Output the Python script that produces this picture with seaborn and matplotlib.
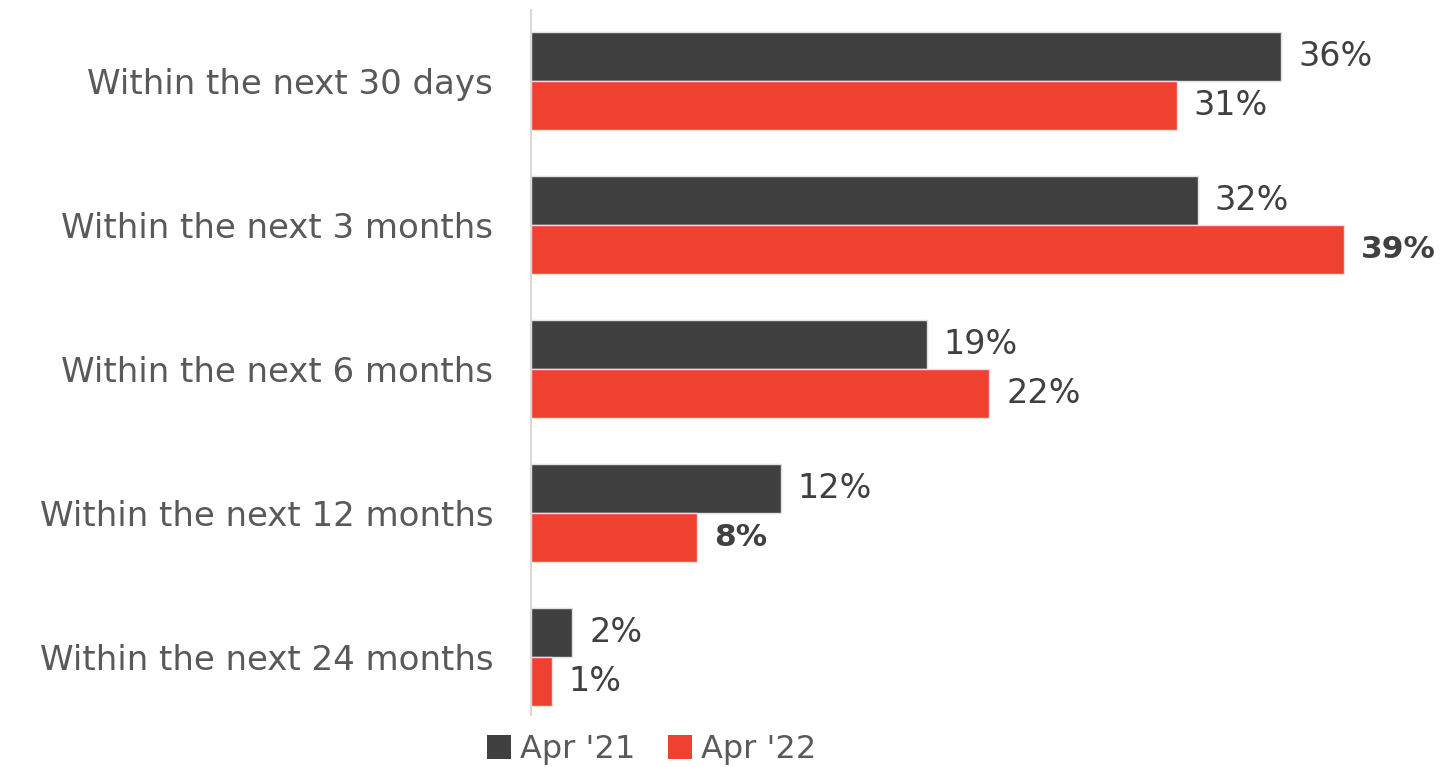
import matplotlib
matplotlib.use("Agg")
import matplotlib.pyplot as plt
import seaborn as sns
import pandas as pd
from matplotlib.patches import Patch

categories = ["Within the next 30 days", "Within the next 3 months", "Within the next 6 months",
              "Within the next 12 months", "Within the next 24 months"]
apr21 = [36, 32, 19, 12, 2]
apr22 = [31, 39, 22, 8, 1]
series = ["Apr '21", "Apr '22"]
bold_labels = {("Apr '22", 1), ("Apr '22", 3)}

df = pd.DataFrame({
    "cat": categories * 2,
    "val": apr21 + apr22,
    "series": [series[0]] * 5 + [series[1]] * 5,
})

sns.set_theme(style="white")
plt.rcParams['font.family'] = ['DejaVu Sans']

colors = {"Apr '21": "#404040", "Apr '22": "#EE4130"}

fig = plt.figure(figsize=(14.42, 7.67), dpi=100)
ax = fig.add_axes([0.368, 0.068, 0.632, 0.919])
sns.barplot(data=df, y="cat", x="val", hue="series", order=categories, hue_order=series,
            palette=colors, width=0.68, orient="h", ax=ax, legend=False,
            edgecolor="#e0e0e0", linewidth=1, saturation=1)

ax.set_xlim(0, 43.7)
ax.set_ylim(4.40, -0.493)
ax.set_xlabel("")
ax.set_ylabel("")
ax.set_xticks([])
for s in ["top", "right", "bottom"]:
    ax.spines[s].set_visible(False)
ax.spines["left"].set_color("#d9d9d9")
ax.spines["left"].set_linewidth(1.5)
ax.tick_params(axis="y", length=0, pad=27, labelsize=24.5, labelcolor="#595959")

for ci, cont in enumerate(ax.containers):
    s = series[ci]
    for i, bar in enumerate(cont):
        v = bar.get_width()
        bold = (s, i) in bold_labels
        ax.text(v + 0.8, bar.get_y() + bar.get_height() / 2, f"{int(round(v))}%",
                va="center", ha="left", fontsize=22.5 if bold else 24,
                color="#404040", fontweight="bold" if bold else "normal")

handles = [Patch(facecolor=colors[s], edgecolor="none") for s in series]
fig.legend(handles, series, loc="lower center", bbox_to_anchor=(0.452, -0.035), ncol=2,
           frameon=False, fontsize=23, labelcolor="#595959", handlelength=0.75,
           handleheight=0.75, handletextpad=0.3, columnspacing=1.0)

fig.savefig("out.png", dpi=100)
